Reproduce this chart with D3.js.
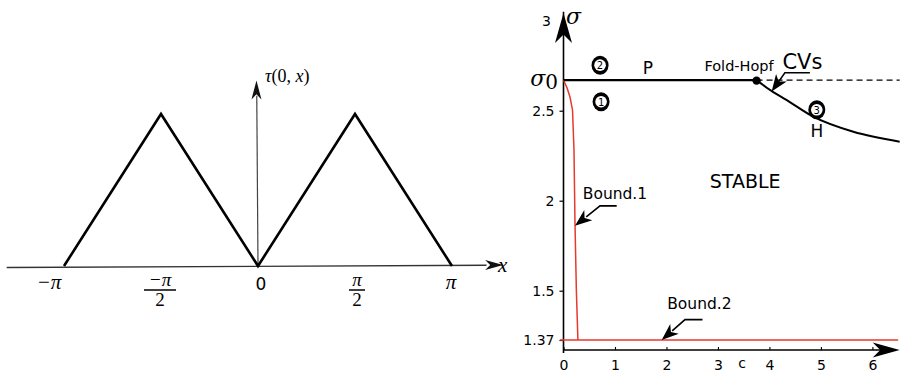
<!DOCTYPE html>
<html>
<head>
<meta charset="utf-8">
<script src="https://cdn.jsdelivr.net/npm/d3@7"></script>
<style>
  body { margin: 0; background: #fff; }
  svg { display: block; }
</style>
</head>
<body>
<div id="chart"></div>
<script>
const width = 901, height = 373;

// left panel: tau(0,x) triangle wave
const waveX = [-Math.PI, -Math.PI / 2, 0, Math.PI / 2, Math.PI];
const waveY = [0, 1, 0, 1, 0];
const waveTicks = [-Math.PI, -Math.PI / 2, 0, Math.PI / 2, Math.PI];
const waveTickLabels = [["−π"], ["−π", "2"], ["0"], ["π", "2"], ["π"]];

// right panel: (c, sigma) stability diagram
const sigma0 = 2.67;
const foldHopf = [3.75, sigma0];
const pLineC = [0, 3.75];
const dashedC = [3.75, 6.53];
const hopfC = [3.75, 4.04, 4.33, 4.85, 5.63, 6.53];
const hopfSigma = [2.67, 2.61, 2.56, 2.467, 2.383, 2.328];
const bound1C = [0, 0.07, 0.126, 0.175, 0.204, 0.223, 0.25, 0.28];
const bound1Sigma = [2.67, 2.626, 2.576, 2.504, 2.28, 1.876, 1.5, 1.37];
const bound2C = [-0.07, 6.5];
const bound2Sigma = [1.37, 1.37];
const cTicks = [0, 1, 2, 3, 4, 5, 6];
const sigmaTicks = [1.37, 1.5, 2, 2.5, 3];

const svg = d3.select("#chart").append("svg")
    .attr("width", width).attr("height", height)
    .attr("viewBox", `0 0 ${width} ${height}`);

// arrowhead in "stealth" shape, tip at (0,0) pointing along +x
function stealth(len, half) {
    return `M0,0L${-len},${-half}L${-len * 0.72},0L${-len},${half}Z`;
}
function arrowAt(g, x, y, angle, len, half, fill) {
    g.append("path").attr("d", stealth(len, half))
        .attr("transform", `translate(${x},${y}) rotate(${angle})`)
        .attr("fill", fill);
}

// ---------- left panel ----------
const xL = d3.scaleLinear().domain([-Math.PI, Math.PI]).range([64, 452]);
const yL = d3.scaleLinear().domain([0, 1]).range([266, 114]);
const left = svg.append("g");

left.append("line")
    .attr("x1", xL(-4.07)).attr("y1", yL(-0.01))
    .attr("x2", xL(3.7)).attr("y2", yL(0.005))
    .attr("stroke", "#333").attr("stroke-width", 1.3);
arrowAt(left, xL(3.97), yL(0.007), 0, 18, 5, "#111");

left.append("line")
    .attr("x1", xL(0)).attr("y1", yL(0))
    .attr("x2", xL(-0.02)).attr("y2", yL(1.12))
    .attr("stroke", "#444").attr("stroke-width", 1.2);
arrowAt(left, xL(-0.025), yL(1.22), -90, 19, 5, "#111");

left.append("path")
    .datum(d3.zip(waveX, waveY))
    .attr("d", d3.line().x(d => xL(d[0])).y(d => yL(d[1])))
    .attr("fill", "none").attr("stroke", "#000")
    .attr("stroke-width", 2.6).attr("stroke-linejoin", "miter");

const labelShift = [-15, -1, 3, 2, -1];
waveTicks.forEach((t, i) => {
    const lab = waveTickLabels[i];
    const cx = xL(t) + labelShift[i];
    if (lab.length === 1) {
        const serif = lab[0] !== "0";
        left.append("text")
            .attr("x", cx).attr("y", serif ? 289 : 290)
            .attr("text-anchor", "middle")
            .style("font-family", serif ? "Liberation Serif" : "DejaVu Sans")
            .style("font-style", serif ? "italic" : "normal")
            .style("font-size", serif ? "21px" : "17px")
            .text(lab[0]);
    } else {
        left.append("text").attr("x", cx).attr("y", 286)
            .attr("text-anchor", "middle")
            .style("font-family", "Liberation Serif").style("font-style", "italic")
            .style("font-size", "19px").text(lab[0]);
        left.append("line")
            .attr("x1", cx - (lab[0].length > 1 ? 16 : 8)).attr("x2", cx + (lab[0].length > 1 ? 16 : 8))
            .attr("y1", 290).attr("y2", 290)
            .attr("stroke", "#000").attr("stroke-width", 1.5);
        left.append("text").attr("x", cx).attr("y", 306)
            .attr("text-anchor", "middle")
            .style("font-family", "Liberation Serif")
            .style("font-size", "19px").text(lab[1]);
    }
});

left.append("text").attr("x", 498).attr("y", 272)
    .style("font-family", "Liberation Serif").style("font-style", "italic")
    .style("font-size", "21px").text("x");

const tau = left.append("text").attr("x", 265).attr("y", 82)
    .style("font-family", "Liberation Serif").style("font-size", "18px");
tau.append("tspan").style("font-style", "italic").text("τ");
tau.append("tspan").text("(0, ");
tau.append("tspan").style("font-style", "italic").text("x");
tau.append("tspan").text(")");

// ---------- right panel ----------
const x = d3.scaleLinear().domain([0, 6]).range([563.5, 872.4]);
const y = d3.scaleLinear().domain([1.37, 1.5, 3]).range([340, 290.7, 20.7]);
const sigmaMin = 1.3436;
const right = svg.append("g");
const line = d3.line().x(d => x(d[0])).y(d => y(d[1]));
const curve = d3.line().curve(d3.curveMonotoneX).x(d => x(d[0])).y(d => y(d[1]));
const font = "DejaVu Sans";

// axes
right.append("line")
    .attr("x1", x(0)).attr("y1", y(sigmaMin) + 3)
    .attr("x2", x(0)).attr("y2", y(3.05))
    .attr("stroke", "#000").attr("stroke-width", 1.6);
arrowAt(right, x(0), y(3.04) - 0.5, -90, 30, 8.5, "#000");
right.append("line")
    .attr("x1", x(0)).attr("y1", y(sigmaMin))
    .attr("x2", x(6.3)).attr("y2", y(sigmaMin))
    .attr("stroke", "#000").attr("stroke-width", 1.6);
arrowAt(right, x(6.53), y(sigmaMin), 0, 27, 7.5, "#000");

const yAxis = right.append("g").attr("transform", `translate(${x(0)},0)`)
    .call(d3.axisLeft(y).tickValues(sigmaTicks).tickSize(4).tickPadding(5)
        .tickFormat(d => d === 3 ? "" : d3.format("")(d)));
yAxis.select(".domain").remove();
yAxis.selectAll("line").attr("stroke", "#000").attr("stroke-width", 1.2)
    .filter(d => d === 3).remove();
yAxis.selectAll("text").style("font-family", font).style("font-size", "14px").attr("fill", "#000");

right.append("text").attr("x", x(0) - 17).attr("y", y(3) + 5)
    .attr("text-anchor", "middle")
    .style("font-family", font).style("font-size", "14px").text("3");

const xAxis = right.append("g").attr("transform", `translate(0,${y(sigmaMin)})`)
    .call(d3.axisTop(x).tickValues(cTicks).tickSize(3).tickFormat(d3.format("d")));
xAxis.select(".domain").remove();
xAxis.selectAll("line").attr("stroke", "#000").attr("stroke-width", 1.1);
xAxis.selectAll("text").attr("y", 20).attr("dy", "0").attr("fill", "#000")
    .style("font-family", font).style("font-size", "14px");

right.append("text").attr("x", 742).attr("y", 368)
    .attr("text-anchor", "middle")
    .style("font-family", font).style("font-size", "14px").text("c");

right.append("text").attr("x", 566).attr("y", 24)
    .style("font-family", "DejaVu Serif").style("font-style", "italic")
    .style("font-size", "22px").text("σ");

const s0 = right.append("text").attr("x", 558).attr("y", 86)
    .attr("text-anchor", "end")
    .style("font-family", "DejaVu Serif").style("font-size", "22px");
s0.append("tspan").style("font-style", "italic").text("σ");
s0.append("tspan").attr("dy", 3).style("font-size", "20px").text("0");

// red bounds
right.append("path").datum(d3.zip(bound1C, bound1Sigma))
    .attr("d", line).attr("fill", "none")
    .attr("stroke", "#e53a2c").attr("stroke-width", 1.5);
right.append("path").datum(d3.zip(bound2C, bound2Sigma))
    .attr("d", line).attr("fill", "none")
    .attr("stroke", "#e53a2c").attr("stroke-width", 1.5);

// P line, dashed continuation, Hopf curve
right.append("path").datum(pLineC.map(c => [c, sigma0]))
    .attr("d", line).attr("stroke", "#000").attr("stroke-width", 2.2);
right.append("path").datum(dashedC.map(c => [c, sigma0]))
    .attr("d", line).attr("stroke", "#000").attr("stroke-width", 1.2)
    .attr("stroke-dasharray", "6,4");
right.append("path").datum(d3.zip(hopfC, hopfSigma))
    .attr("d", curve).attr("fill", "none")
    .attr("stroke", "#000").attr("stroke-width", 2);
right.append("circle")
    .attr("cx", x(foldHopf[0])).attr("cy", y(foldHopf[1]) + 0.5).attr("r", 4.2)
    .attr("fill", "#000");

// annotation arrows: tail -> elbow -> tip (data coordinates)
const annotations = [
    { tail: [4.786, 2.711], elbow: [4.30, 2.711], tip: [4.043, 2.606] },
    { tail: [1.033, 1.971], elbow: [0.709, 1.971], tip: [0.223, 1.861] },
    { tail: [2.70, 1.4236], elbow: [2.36, 1.4236], tip: [1.907, 1.37] }
];
annotations.forEach(a => {
    const pts = [a.tail, a.elbow, a.tip].map(p => [x(p[0]), y(p[1])]);
    right.append("path").attr("d", d3.line()(pts.slice(0, 2).concat([[
        pts[2][0] + (pts[1][0] - pts[2][0]) * 0.45, pts[2][1] + (pts[1][1] - pts[2][1]) * 0.45]])))
        .attr("fill", "none").attr("stroke", "#000").attr("stroke-width", 1.6);
    const ang = Math.atan2(pts[2][1] - pts[1][1], pts[2][0] - pts[1][0]) * 180 / Math.PI;
    arrowAt(right, pts[2][0], pts[2][1], ang, 17, 6.5, "#000");
});

// text labels
const labels = [
    { text: "Fold-Hopf", at: [3.41, 2.748], size: 14.5 },
    { text: "CVs", at: [4.64, 2.77], size: 21 },
    { text: "P", at: [1.64, 2.736], size: 17 },
    { text: "H", at: [4.92, 2.39], size: 17 },
    { text: "STABLE", at: [3.53, 2.109], size: 19 },
    { text: "Bound.1", at: [1.0, 2.04], size: 15.5 },
    { text: "Bound.2", at: [2.64, 1.466], size: 15.5 }
];
labels.forEach(l => {
    right.append("text")
        .attr("x", x(l.at[0])).attr("y", y(l.at[1]))
        .attr("text-anchor", "middle").attr("dominant-baseline", "central")
        .style("font-family", font).style("font-size", l.size + "px")
        .text(l.text);
});

// circled region numbers
const regions = [
    { n: "1", at: [0.73, 2.55] },
    { n: "2", at: [0.71, 2.753] },
    { n: "3", at: [4.92, 2.505] }
];
regions.forEach(r => {
    const g = right.append("g").attr("transform", `translate(${x(r.at[0])},${y(r.at[1])})`);
    g.append("ellipse").attr("rx", 8.5).attr("ry", 9.5).attr("fill", "#000");
    g.append("circle").attr("r", 5.8).attr("fill", "#fff");
    g.append("text").attr("text-anchor", "middle").attr("dominant-baseline", "central")
        .attr("y", 0.5)
        .style("font-family", font).style("font-size", "10px").text(r.n);
});
</script>
</body>
</html>
